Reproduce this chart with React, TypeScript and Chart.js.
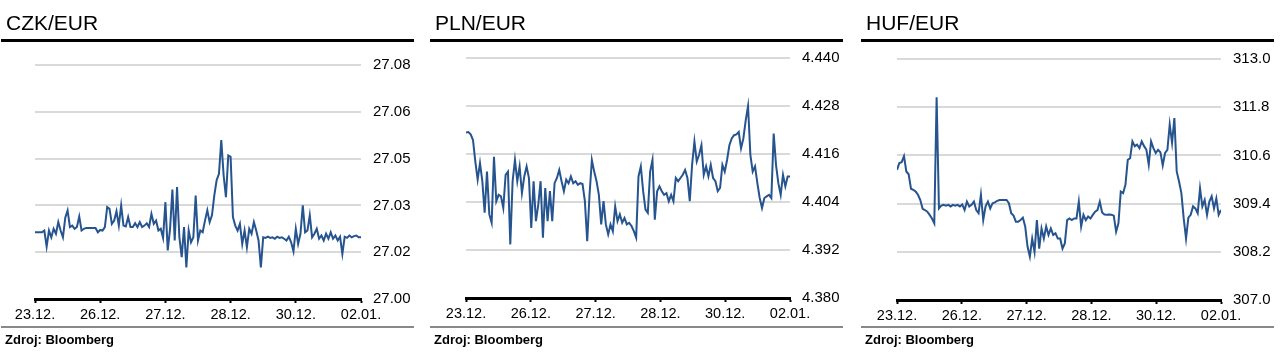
import React, { useEffect, useRef } from 'react';
import { Chart, registerables } from 'chart.js';

Chart.register(...registerables);

const X_LABELS = ['23.12.', '26.12.', '27.12.', '28.12.', '30.12.', '02.01.'];

const CZK_TICKS = [27.0, 27.016, 27.032, 27.048, 27.064, 27.08];
const PLN_TICKS = [4.38, 4.392, 4.404, 4.416, 4.428, 4.44];
const HUF_TICKS = [307.0, 308.2, 309.4, 310.6, 311.8, 313.0];

const CZK_VALUES = [
  27.0228, 27.0228, 27.0228, 27.0228, 27.0234, 27.0179, 27.0234, 27.0211, 27.0240, 27.0223,
  27.0263, 27.0234, 27.0211, 27.0278, 27.0303, 27.0246, 27.0251, 27.0240, 27.0246, 27.0282,
  27.0234, 27.0240, 27.0243, 27.0243, 27.0243, 27.0243, 27.0243, 27.0228, 27.0236, 27.0234,
  27.0246, 27.0314, 27.0308, 27.0257, 27.0268, 27.0300, 27.0251, 27.0320, 27.0251, 27.0248,
  27.0280, 27.0246, 27.0246, 27.0259, 27.0246, 27.0263, 27.0246, 27.0251, 27.0259, 27.0246,
  27.0291, 27.0257, 27.0268, 27.0234, 27.0240, 27.0209, 27.0331, 27.0166, 27.0240, 27.0374,
  27.0200, 27.0383, 27.0211, 27.0143, 27.0246, 27.0108, 27.0234, 27.0194, 27.0211, 27.0354,
  27.0200, 27.0234, 27.0228, 27.0268, 27.0303, 27.0263, 27.0286, 27.0354, 27.0406, 27.0428,
  27.0543, 27.0423, 27.0348, 27.0491, 27.0486, 27.0280, 27.0251, 27.0234, 27.0257, 27.0188,
  27.0234, 27.0177, 27.0240, 27.0223, 27.0263, 27.0234, 27.0200, 27.0108, 27.0211, 27.0209,
  27.0213, 27.0209, 27.0211, 27.0206, 27.0213, 27.0209, 27.0211, 27.0206, 27.0200, 27.0213,
  27.0194, 27.0163, 27.0240, 27.0188, 27.0223, 27.0320, 27.0228, 27.0234, 27.0286, 27.0211,
  27.0223, 27.0240, 27.0206, 27.0217, 27.0200, 27.0223, 27.0206, 27.0228, 27.0206, 27.0217,
  27.0200, 27.0213, 27.0154, 27.0213, 27.0209, 27.0217, 27.0211, 27.0215, 27.0217, 27.0211,
  27.0211,
];

const PLN_VALUES = [
  4.4214, 4.4215, 4.4209, 4.4195, 4.4141, 4.4096, 4.4137, 4.4092, 4.4013, 4.4116,
  4.4009, 4.3988, 4.4153, 4.4042, 4.4058, 4.4054, 4.4025, 4.4108, 4.4116, 4.3934,
  4.4092, 4.4145, 4.4092, 4.4129, 4.4062, 4.4104, 4.4129, 4.4100, 4.3975, 4.4092,
  4.3992, 4.4033, 4.4092, 4.3951, 4.4075, 4.3992, 4.4067, 4.3992, 4.4087, 4.4100,
  4.4120, 4.4092, 4.4067, 4.4096, 4.4087, 4.4104, 4.4087, 4.4092, 4.4083, 4.4087,
  4.4085, 4.4042, 4.3942, 4.4058, 4.4145, 4.4116, 4.4092, 4.4058, 4.3984, 4.4042,
  4.3984, 4.3959, 4.3984, 4.3967, 4.4029, 4.3992, 4.4009, 4.3988, 4.4000, 4.3984,
  4.3988, 4.3980, 4.3967, 4.3951, 4.4104, 4.4129, 4.4067, 4.4021, 4.4013, 4.4116,
  4.4145, 4.3996, 4.4067, 4.4079, 4.4067, 4.4058, 4.4062, 4.4042, 4.4058, 4.4042,
  4.4100, 4.4092, 4.4100, 4.4108, 4.4120, 4.4100, 4.4042, 4.4133, 4.4191, 4.4141,
  4.4158, 4.4182, 4.4108, 4.4129, 4.4104, 4.4133, 4.4100, 4.4092, 4.4067, 4.4075,
  4.4133, 4.4116, 4.4145, 4.4182, 4.4199, 4.4207, 4.4209, 4.4215, 4.4174, 4.4199,
  4.4244, 4.4280, 4.4158, 4.4116, 4.4129, 4.4087, 4.4050, 4.4025, 4.4050, 4.4054,
  4.4058, 4.4050, 4.4211, 4.4133, 4.4087, 4.4058, 4.4108, 4.4079, 4.4104, 4.4104,
];

const HUF_VALUES = [
  310.24, 310.41, 310.43, 310.58, 310.20, 310.13, 309.77, 309.74, 309.70, 309.62,
  309.49, 309.27, 309.24, 309.20, 309.12, 309.03, 308.91, 312.05, 309.28, 309.35,
  309.37, 309.35, 309.37, 309.33, 309.37, 309.35, 309.37, 309.33, 309.38, 309.24,
  309.45, 309.33, 309.37, 309.45, 309.24, 309.16, 309.62, 308.99, 309.33, 309.45,
  309.28, 309.41, 309.43, 309.47, 309.49, 309.49, 309.49, 309.49, 309.41, 309.16,
  309.10, 308.95, 308.95, 308.99, 309.05, 308.83, 308.33, 308.08, 308.53, 308.20,
  308.99, 308.28, 308.78, 308.53, 308.83, 308.62, 308.78, 308.62, 308.66, 308.53,
  308.53, 308.28, 308.41, 308.99, 309.03, 308.99, 309.03, 309.03, 309.45, 308.83,
  309.12, 308.99, 309.08, 309.03, 309.12, 309.20, 309.24, 309.45, 309.18, 309.13,
  309.12, 309.13, 309.12, 309.10, 308.70, 308.91, 309.70, 309.66, 309.87, 310.49,
  310.53, 310.95, 310.83, 310.87, 310.78, 310.95, 310.83, 310.74, 310.37, 310.95,
  310.78, 310.66, 310.74, 310.68, 310.35, 310.66, 310.74, 311.37, 310.91, 311.53,
  310.20, 309.95, 309.66, 309.03, 308.53, 309.05, 309.12, 309.33, 309.28, 309.16,
  309.78, 309.33, 309.49, 309.12, 309.45, 309.58, 309.28, 309.53, 309.12, 309.24,
];

const FONT = '"Liberation Sans", Arial, Helvetica, sans-serif';
const LINE_COLOR = '#26548f';
const GRID_COLOR = '#d9d9d9';
const SOURCE = 'Zdroj: Bloomberg';

type PanelProps = {
  title: string;
  values: number[];
  ticks: number[];
  decimals: number;
  left: number;
  padLeft: number;
  padTop: number;
  xHeight: number;
};

function Panel({ title, values, ticks, decimals, left, padLeft, padTop, xHeight }: PanelProps) {
  const ref = useRef<HTMLCanvasElement | null>(null);

  useEffect(() => {
    if (!ref.current) return;
    const chart = new Chart(ref.current, {
      type: 'line',
      data: {
        datasets: [
          {
            data: values.map((v, i) => ({ x: (i * 100) / (values.length - 1), y: v })),
            borderColor: LINE_COLOR,
            borderWidth: 2,
            pointRadius: 0,
            tension: 0,
            fill: false,
          },
        ],
      },
      options: {
        animation: false,
        responsive: false,
        events: [],
        plugins: { legend: { display: false }, tooltip: { enabled: false } },
        layout: { padding: { left: padLeft, top: padTop, right: 0, bottom: 0 } },
        scales: {
          x: {
            type: 'linear',
            position: 'bottom',
            min: 0,
            max: 100,
            afterBuildTicks: (s: any) => {
              s.ticks = X_LABELS.map((_, i) => ({ value: i * 20 }));
            },
            afterFit: (s: any) => {
              s.height = xHeight;
            },
            ticks: {
              callback: (_v: any, i: number) => X_LABELS[i],
              autoSkip: false,
              maxRotation: 0,
              minRotation: 0,
              color: '#000',
              padding: 3,
              font: { family: FONT, size: 14.5 },
            },
            grid: {
              drawOnChartArea: false,
              drawTicks: true,
              tickLength: 4,
              tickWidth: 2,
              tickColor: '#000',
            },
            border: { display: true, color: '#000', width: 3 },
          },
          y: {
            type: 'linear',
            position: 'right',
            min: ticks[0],
            max: ticks[ticks.length - 1],
            afterBuildTicks: (s: any) => {
              s.ticks = ticks.map((v) => ({ value: v }));
            },
            afterFit: (s: any) => {
              s.width = 53;
            },
            ticks: {
              callback: (v: any) => Number(v).toFixed(decimals),
              color: '#000',
              padding: 12,
              font: { family: FONT, size: 15 },
            },
            grid: { color: GRID_COLOR, lineWidth: 2, drawTicks: false },
            border: { display: false },
          },
        },
      },
    } as any);
    return () => chart.destroy();
  }, [values, ticks, decimals, padLeft, padTop, xHeight]);

  return (
    <div style={{ position: 'absolute', left, top: 0, width: 413, height: 359 }}>
      <canvas
        ref={ref}
        width={413}
        height={327}
        style={{ position: 'absolute', left: 0, top: 0, width: 413, height: 327, display: 'block' }}
      />
      <div
        style={{
          position: 'absolute',
          left: 5,
          top: 11.5,
          fontFamily: FONT,
          fontSize: 21,
          lineHeight: '21px',
          color: '#000',
          whiteSpace: 'nowrap',
        }}
      >
        {title}
      </div>
      <div style={{ position: 'absolute', left: 0, top: 39, width: 413, height: 3, background: '#000' }} />
      <div style={{ position: 'absolute', left: 0, top: 326, width: 413, height: 2, background: '#888' }} />
      <div
        style={{
          position: 'absolute',
          left: 4,
          top: 333,
          fontFamily: FONT,
          fontSize: 13,
          lineHeight: '13px',
          fontWeight: 'bold',
          color: '#000',
          whiteSpace: 'nowrap',
        }}
      >
        {SOURCE}
      </div>
    </div>
  );
}

export default function App() {
  return (
    <div style={{ position: 'absolute', left: 0, top: 0, width: 1283, height: 359, background: '#fff', overflow: 'hidden' }}>
      <Panel title="CZK/EUR" values={CZK_VALUES} ticks={CZK_TICKS} decimals={2} left={1} padLeft={34} padTop={65} xHeight={28} />
      <Panel title="PLN/EUR" values={PLN_VALUES} ticks={PLN_TICKS} decimals={3} left={430} padLeft={36} padTop={58} xHeight={29} />
      <Panel title="HUF/EUR" values={HUF_VALUES} ticks={HUF_TICKS} decimals={1} left={861} padLeft={36} padTop={59} xHeight={27} />
    </div>
  );
}
